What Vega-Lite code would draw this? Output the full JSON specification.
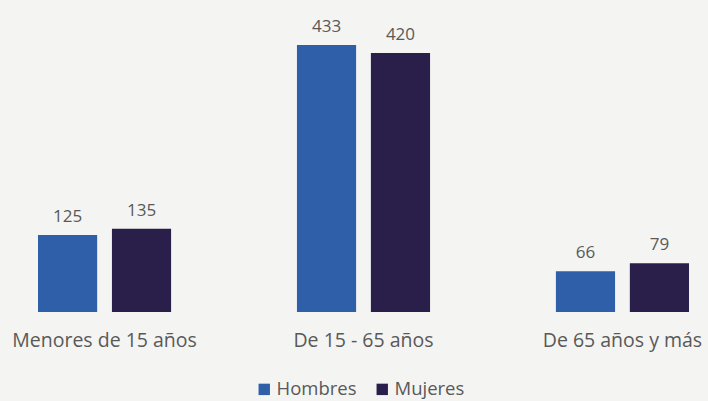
{
  "$schema": "https://vega.github.io/schema/vega-lite/v6.json",
  "autosize": {"type": "none"},
  "width": 651,
  "height": 312,
  "padding": {"left": 38, "right": 19, "top": 0, "bottom": 89},
  "background": "#f4f4f2",
  "config": {"view": {"stroke": null}, "font": "Open Sans"},
  "data": {
    "values": [
      {"grupo": "Menores de 15 años", "sexo": "Hombres", "valor": 125},
      {"grupo": "Menores de 15 años", "sexo": "Mujeres", "valor": 135},
      {"grupo": "De 15 - 65 años", "sexo": "Hombres", "valor": 433},
      {"grupo": "De 15 - 65 años", "sexo": "Mujeres", "valor": 420},
      {"grupo": "De 65 años y más", "sexo": "Hombres", "valor": 66},
      {"grupo": "De 65 años y más", "sexo": "Mujeres", "valor": 79}
    ]
  },
  "encoding": {
    "x": {
      "field": "grupo", "type": "nominal", "sort": null,
      "scale": {"paddingInner": 0.486, "paddingOuter": 0},
      "axis": {"title": null, "labelAngle": 0, "domain": false, "ticks": false, "labelPadding": 19, "labelFontSize": 19.5, "labelLimit": 0, "labelColor": "#595959", "labelFont": "Open Sans"}
    },
    "xOffset": {"field": "sexo", "type": "nominal", "scale": {"paddingInner": 0.2, "paddingOuter": 0}},
    "y": {"field": "valor", "type": "quantitative", "scale": {"domain": [0, 506]}, "axis": null}
  },
  "layer": [
    {
      "mark": {"type": "bar"},
      "encoding": {
        "color": {
          "field": "sexo", "type": "nominal",
          "scale": {"domain": ["Hombres", "Mujeres"], "range": ["#2e5fa8", "#2a1f4b"]},
          "legend": {"title": null, "orient": "none", "direction": "horizontal", "legendX": 217, "legendY": 380, "symbolType": "square", "symbolSize": 130, "symbolStrokeWidth": 0, "labelFontSize": 18.5, "labelColor": "#595959", "labelFont": "Open Sans", "columnPadding": 16, "labelOffset": 3}
        }
      }
    },
    {
      "mark": {"type": "text", "baseline": "bottom", "dy": -9, "fontSize": 17, "color": "#595959", "font": "Open Sans"},
      "encoding": {"text": {"field": "valor", "type": "quantitative"}}
    }
  ]
}
